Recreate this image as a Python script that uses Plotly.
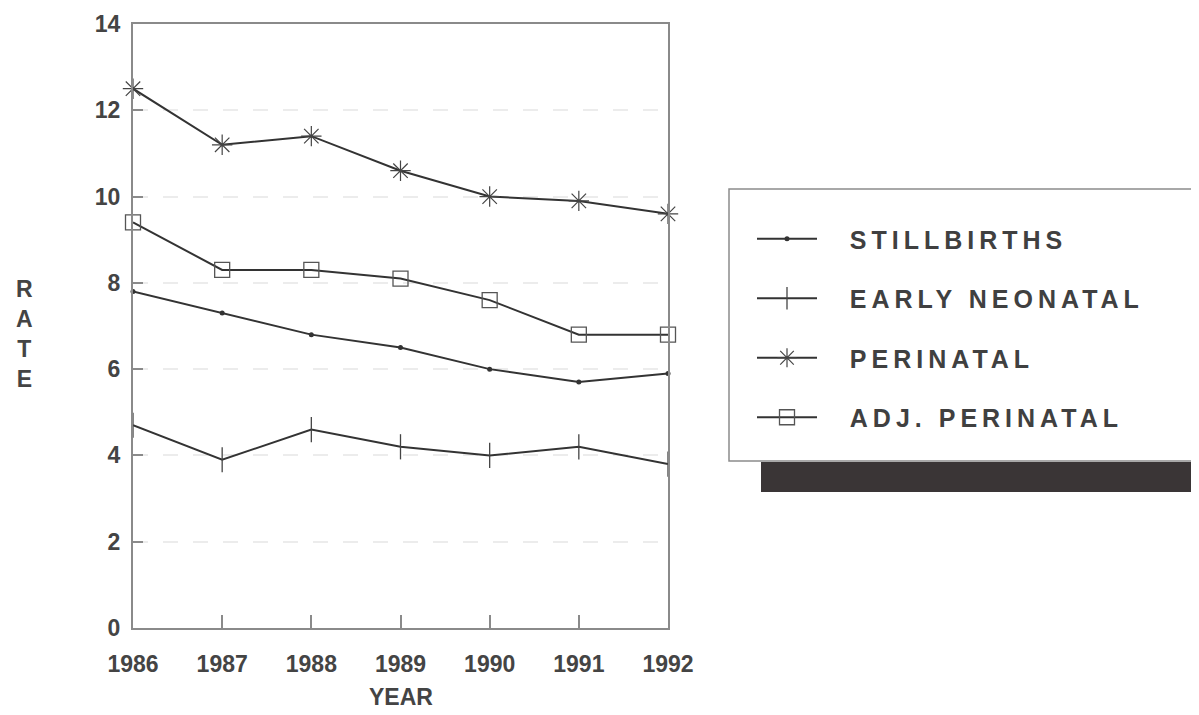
import plotly.graph_objects as go

years = [1986, 1987, 1988, 1989, 1990, 1991, 1992]
stillbirths = [7.8, 7.3, 6.8, 6.5, 6.0, 5.7, 5.9]
early_neonatal = [4.7, 3.9, 4.6, 4.2, 4.0, 4.2, 3.8]
perinatal = [12.5, 11.2, 11.4, 10.6, 10.0, 9.9, 9.6]
adj_perinatal = [9.4, 8.3, 8.3, 8.1, 7.6, 6.8, 6.8]
series_names = ["STILLBIRTHS", "EARLY NEONATAL", "PERINATAL", "ADJ. PERINATAL"]
y_ticks = [0, 2, 4, 6, 8, 10, 12, 14]
y_title = "RATE"
x_title = "YEAR"

OFF = 8  # page offset of the rendered figure
FW, FH = 1199 - OFF, 715 - OFF
L, R, T, B = 133 - OFF, 668 - OFF, 24 - OFF, 628 - OFF


def px_x(p):
    return (p - OFF - L) / (R - L)


def px_y(p):
    return (B - (p - OFF)) / (B - T)


LINE = "#333333"
fig = go.Figure()
specs = [
    (stillbirths, dict(symbol="circle", size=5, color=LINE)),
    (early_neonatal, dict(symbol="line-ns", size=18, line=dict(color="#444", width=1.3))),
    (perinatal, dict(symbol="asterisk", size=17, line=dict(color="#444", width=1.2))),
    (adj_perinatal, dict(symbol="square-open", size=15, color="#555", line=dict(color="#555", width=1.3))),
]
for i, (vals, mk) in enumerate(specs):
    fig.add_trace(go.Scatter(
        x=years, y=vals, mode="lines+markers",
        name='\u00a0\u00a0\u00a0\u00a0<span style="letter-spacing:5px">%s</span>' % series_names[i],
        line=dict(color=LINE, width=2), marker=mk,
        cliponaxis=False, legendgroup="g%d" % i,
    ))

axis_font = dict(family="Liberation Sans, Arial", size=23, color="#444444", weight="bold")
fig.update_layout(
    width=FW, height=FH,
    margin=dict(l=L, r=FW - R, t=T, b=FH - B, autoexpand=False),
    paper_bgcolor="white", plot_bgcolor="white",
    showlegend=True,
    legend=dict(
        xref="container", yref="container",
        x=(752 - OFF) / FW, y=1 - (216 - OFF) / FH, xanchor="left", yanchor="top",
        bgcolor="rgba(0,0,0,0)", borderwidth=0,
        font=dict(family="Liberation Sans, Arial", size=25, color="#404040", weight="bold"),
        itemwidth=60, tracegroupgap=24, traceorder="grouped",
    ),
    xaxis=dict(
        range=[1986, 1992], tickvals=years, ticktext=[str(y) for y in years],
        ticks="inside", ticklen=13, tickwidth=1.5, tickcolor="#8a8a8a",
        showline=True, linecolor="#8a8a8a", linewidth=2, mirror=True,
        showgrid=False, zeroline=False, tickfont=axis_font,
        ticklabelstandoff=14, automargin=False,
    ),
    yaxis=dict(
        range=[0, 14], tickvals=y_ticks,
        ticks="inside", ticklen=10, tickwidth=1.5, tickcolor="#8a8a8a",
        showline=True, linecolor="#8a8a8a", linewidth=2, mirror=True,
        showgrid=True, gridcolor="#ececec", gridwidth=1.5, griddash="longdash",
        zeroline=False, tickfont=axis_font, ticklabelstandoff=6, automargin=False,
    ),
    annotations=[
        dict(text="<br>".join(list(y_title)), xref="paper", yref="paper",
             x=px_x(24), y=px_y(334), xanchor="center", yanchor="middle",
             showarrow=False, align="center",
             font=dict(family="Liberation Sans, Arial", size=23, color="#444444", weight="bold")),
        dict(text=x_title, xref="paper", yref="paper",
             x=0.5, y=px_y(697), xanchor="center", yanchor="middle",
             showarrow=False, font=axis_font),
    ],
    shapes=[
        dict(type="rect", xref="paper", yref="paper",
             x0=px_x(761), x1=px_x(1230), y0=px_y(492), y1=px_y(462),
             fillcolor="#3a3536", line=dict(width=0), layer="above"),
        dict(type="rect", xref="paper", yref="paper",
             x0=px_x(729), x1=px_x(1230), y0=px_y(461), y1=px_y(189),
             fillcolor="rgba(0,0,0,0)", line=dict(color="#8c8c8c", width=1.5), layer="above"),
    ],
)
fig.write_html("out.html")
